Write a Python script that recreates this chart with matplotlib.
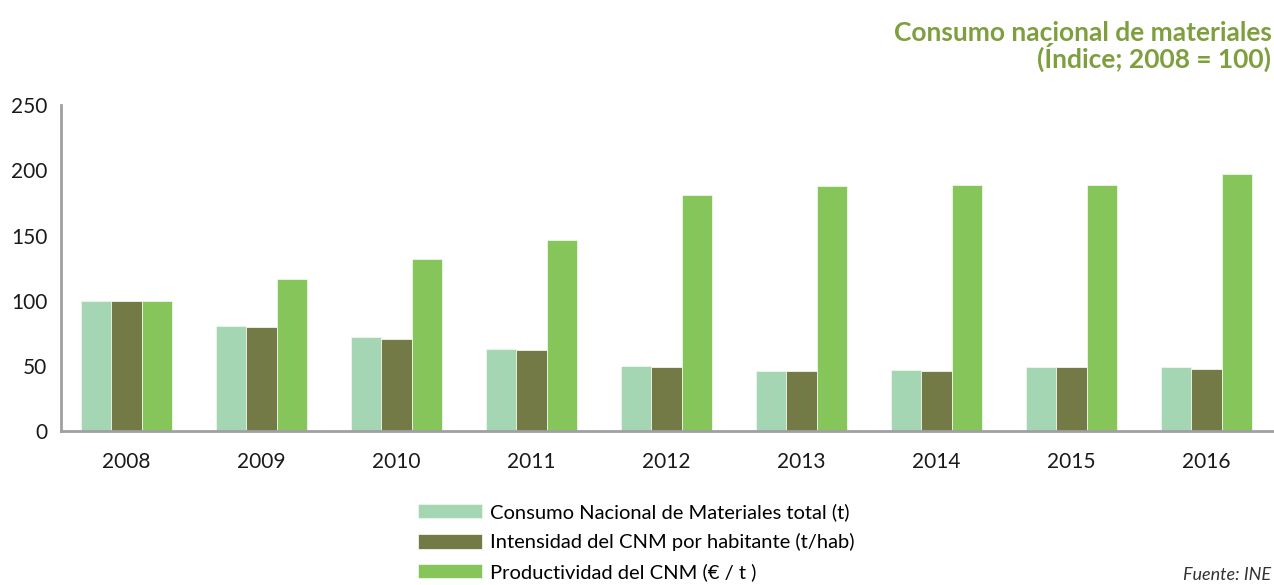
import numpy as np
import matplotlib.pyplot as plt

plt.rcParams['font.family'] = ['Lato', 'DejaVu Sans']

# Consumo nacional de materiales (Indice; 2008 = 100)
años = ['2008', '2009', '2010', '2011', '2012', '2013', '2014', '2015', '2016']
cnm_total = [100, 81, 72, 63, 50, 46, 47, 49, 49]
cnm_habitante = [100, 80, 71, 62, 49, 46, 46, 49, 48]
productividad = [100, 117, 132, 147, 181, 188, 189, 189, 197]

etiquetas = ['Consumo Nacional de Materiales total (t)',
             'Intensidad del CNM por habitante (t/hab)',
             'Productividad del CNM (€ / t )']
colores = ['#a5d6b4', '#737a45', '#86c55a']

fig = plt.figure(figsize=(12.74, 5.85), dpi=100)
ax = fig.add_axes([0.048, 0.263, 0.952, 0.557])

x = np.arange(len(años))
ancho = 0.225
series = [cnm_total, cnm_habitante, productividad]
for i, (vals, lab, col) in enumerate(zip(series, etiquetas, colores)):
    ax.bar(x + (i - 1) * ancho, vals, ancho, color=col, label=lab,
           edgecolor='#eef7ea', linewidth=0.6)

ax.set_xlim(-0.485, 8.5)
ax.set_ylim(0, 250)
ax.set_yticks([0, 50, 100, 150, 200, 250])
ax.set_xticks(x)
ax.set_xticklabels(años)
ax.tick_params(axis='both', length=0, labelsize=15, colors='#1a1a1a')
ax.tick_params(axis='x', pad=15)
ax.tick_params(axis='y', pad=10)

for s in ['top', 'right']:
    ax.spines[s].set_visible(False)
for s in ['left', 'bottom']:
    ax.spines[s].set_color('#a0a0a4')
    ax.spines[s].set_linewidth(2)

fig.legend(loc='upper left', bbox_to_anchor=(0.328, 0.14), frameon=False,
           fontsize=14.5, handlelength=3.2, handleheight=0.75,
           handletextpad=0.4, labelspacing=0.6, borderpad=0, borderaxespad=0)

fig.text(0.998, 0.92, 'Consumo nacional de materiales\n(Índice; 2008 = 100)',
         ha='right', va='center', fontsize=19, fontweight='bold',
         color='#7f9f3f', linespacing=0.9)
fig.text(0.998, 0.004, 'Fuente: INE', ha='right', va='bottom',
         fontsize=13, style='italic', color='#333333')

fig.savefig('out.png', dpi=100)
